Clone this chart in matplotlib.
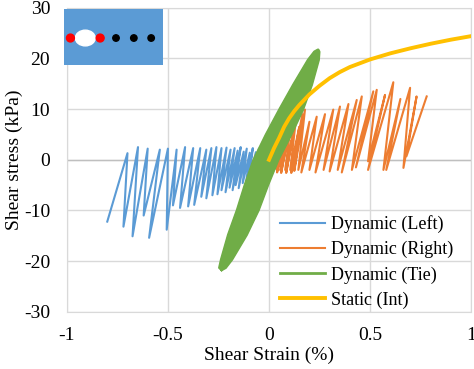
import matplotlib
matplotlib.use("Agg")
import matplotlib.pyplot as plt
from matplotlib.patches import Ellipse

# static curve
static_strain = [0, 0.025, 0.05, 0.075, 0.1, 0.125, 0.15, 0.2, 0.25, 0.3, 0.35, 0.4,
                 0.5, 0.6, 0.7, 0.8, 0.9, 1.0]
static_stress = [0, 2.3, 4.3, 6.5, 8.2, 9.6, 10.8, 12.9, 14.6, 16.1, 17.3, 18.3,
                 19.8, 21.0, 22.0, 22.9, 23.7, 24.4]

# dynamic (left): turning points, top then bottom
left_top_strain = [-0.005, -0.02, -0.035, -0.05, -0.065, -0.08, -0.095, -0.11, -0.125,
                   -0.14, -0.155, -0.17, -0.19, -0.21, -0.235, -0.26, -0.285, -0.31,
                   -0.34, -0.375, -0.415, -0.457, -0.50, -0.54, -0.60, -0.648, -0.70]
left_top_stress = [1.0, 2.0, 1.2, 2.2, 1.5, 2.3, 1.4, 2.2, 1.6,
                   2.5, 1.8, 2.3, 2.0, 2.4, 2.3, 2.5, 2.3, 2.0,
                   2.3, 2.3, 2.5, 2.0, 2.2, 2.0, 2.2, 2.5, 1.3]
left_bot_strain = [-0.035, -0.05, -0.065, -0.085, -0.10, -0.115, -0.13, -0.15, -0.165,
                   -0.18, -0.195, -0.215, -0.235, -0.255, -0.28, -0.31, -0.335, -0.37,
                   -0.40, -0.44, -0.475, -0.506, -0.593, -0.62, -0.675, -0.72, -0.80]
left_bot_stress = [-3.0, -4.0, -3.5, -4.8, -4.2, -5.2, -4.6, -5.6, -5.0,
                   -6.0, -5.5, -6.4, -6.0, -6.8, -7.0, -7.6, -7.3, -8.9,
                   -9.2, -9.5, -9.0, -13.8, -15.4, -11.0, -15.1, -13.2, -12.2]

# dynamic (right): turning points, bottom then top
right_bot_strain = [0.0, 0.0, 0.015, 0.02, 0.035, 0.04, 0.055, 0.06, 0.08, 0.085, 0.105,
                    0.11, 0.125, 0.145, 0.16, 0.20, 0.23, 0.27, 0.30, 0.34, 0.36, 0.41,
                    0.43, 0.49, 0.49, 0.566, 0.58, 0.665, 0.68]
right_bot_stress = [0.0, -1.2, -1.8, -2.2, -1.8, -2.5, -2.0, -2.6, -2.0, -2.6, -2.0,
                    -2.6, -2.2, -2.0, -2.5, -2.0, -2.5, -2.0, -2.3, -2.0, -2.5, -2.0,
                    -1.5, -0.3, -2.0, -2.0, -2.0, -1.6, 0.7]
right_top_strain = [0.02, 0.035, 0.045, 0.06, 0.07, 0.085, 0.095, 0.11, 0.12, 0.135, 0.15,
                    0.165, 0.178, 0.20, 0.236, 0.277, 0.318, 0.351, 0.393, 0.434, 0.459,
                    0.516, 0.533, 0.574, 0.615, 0.65, 0.698, 0.73, 0.78]
right_top_stress = [2.0, 4.0, 3.0, 5.5, 4.0, 6.5, 5.0, 7.5, 5.5, 8.5, 6.5,
                    9.0, 9.9, 7.5, 8.5, 9.0, 9.9, 10.5, 11.0, 11.8, 12.5,
                    13.5, 13.8, 12.8, 15.3, 12.0, 14.2, 12.5, 12.5]

# dynamic (tie): outline of the loop band
tie_strain = [-0.234, -0.245, -0.236, -0.201, -0.157, -0.118, -0.075, -0.015, 0.052, 0.121,
              0.194, 0.225, 0.243, 0.248, 0.245, 0.211, 0.167, 0.108, 0.045, -0.005,
              -0.052, -0.111, -0.184, -0.215, -0.234]
tie_stress = [-21.7, -21.3, -19.7, -14.8, -9.9, -4.9, 0.0, 4.9, 9.9, 14.8,
              19.7, 21.3, 21.7, 21.3, 19.7, 14.8, 9.9, 4.9, 0.0, -4.9,
              -9.9, -14.8, -19.7, -21.3, -21.7]

BLUE = "#5B9BD5"
ORANGE = "#ED7D31"
GREEN = "#70AD47"
YELLOW = "#FFC000"

plt.rcParams["font.family"] = "serif"
plt.rcParams["font.serif"] = ["Liberation Serif", "DejaVu Serif"]
plt.rcParams["font.size"] = 14
plt.rcParams["axes.unicode_minus"] = False

fig = plt.figure(figsize=(4.74, 3.69), dpi=100)
ax = fig.add_axes([0.141, 0.155, 0.853, 0.824])

left_x, left_y = [0.0], [0.0]
for i in range(len(left_top_strain)):
    left_x += [left_top_strain[i], left_bot_strain[i]]
    left_y += [left_top_stress[i], left_bot_stress[i]]

right_x, right_y = [], []
for i in range(len(right_top_strain)):
    right_x += [right_bot_strain[i], right_top_strain[i]]
    right_y += [right_bot_stress[i], right_top_stress[i]]

ax.plot(left_x, left_y, color=BLUE, lw=1.5, label="Dynamic (Left)", zorder=3)
ax.plot(right_x, right_y, color=ORANGE, lw=1.5, label="Dynamic (Right)", zorder=3)
ax.fill(tie_strain, tie_stress, color=GREEN, zorder=4)
ax.plot(tie_strain, tie_stress, color=GREEN, lw=2, label="Dynamic (Tie)", zorder=4)
ax.plot(static_strain, static_stress, color=YELLOW, lw=2.8, label="Static (Int)", zorder=5)

ax.set_xlim(-1, 1)
ax.set_ylim(-30, 30)
ax.set_xticks([-1, -0.5, 0, 0.5, 1])
ax.set_xticklabels(["-1", "-0.5", "0", "0.5", "1"])
ax.set_yticks(range(-30, 31, 10))
ax.grid(True, color="#D9D9D9", lw=1)
ax.set_axisbelow(True)
ax.axhline(0, color="#BFBFBF", lw=1, zorder=1)
for s in ax.spines.values():
    s.set_color("#D9D9D9")
ax.tick_params(axis="x", length=0, pad=11)
ax.tick_params(axis="y", length=0, pad=12)
ax.set_xlabel("Shear Strain (%)", labelpad=2)
ax.set_ylabel("Shear stress (kPa)", labelpad=1)

ax.legend(loc="upper left", bbox_to_anchor=(0.527, 0.318), frameon=False,
          borderpad=0, borderaxespad=0, handlelength=2.5, handletextpad=0.33,
          labelspacing=0.44, fontsize=13)

# inset sketch
ins = fig.add_axes([0.135, 0.824, 0.209, 0.152])
ins.set_facecolor(BLUE)
ins.set_xlim(0, 1)
ins.set_ylim(0, 1)
ins.set_xticks([])
ins.set_yticks([])
for s in ins.spines.values():
    s.set_visible(False)
ins.add_patch(Ellipse((0.215, 0.48), 0.2, 0.28, color="white"))
for xc in [0.065, 0.365]:
    ins.add_patch(Ellipse((xc, 0.48), 0.08, 0.14, color="red"))
for xc in [0.525, 0.705, 0.88]:
    ins.add_patch(Ellipse((xc, 0.48), 0.065, 0.115, color="black"))

plt.savefig("out.png", dpi=100)
